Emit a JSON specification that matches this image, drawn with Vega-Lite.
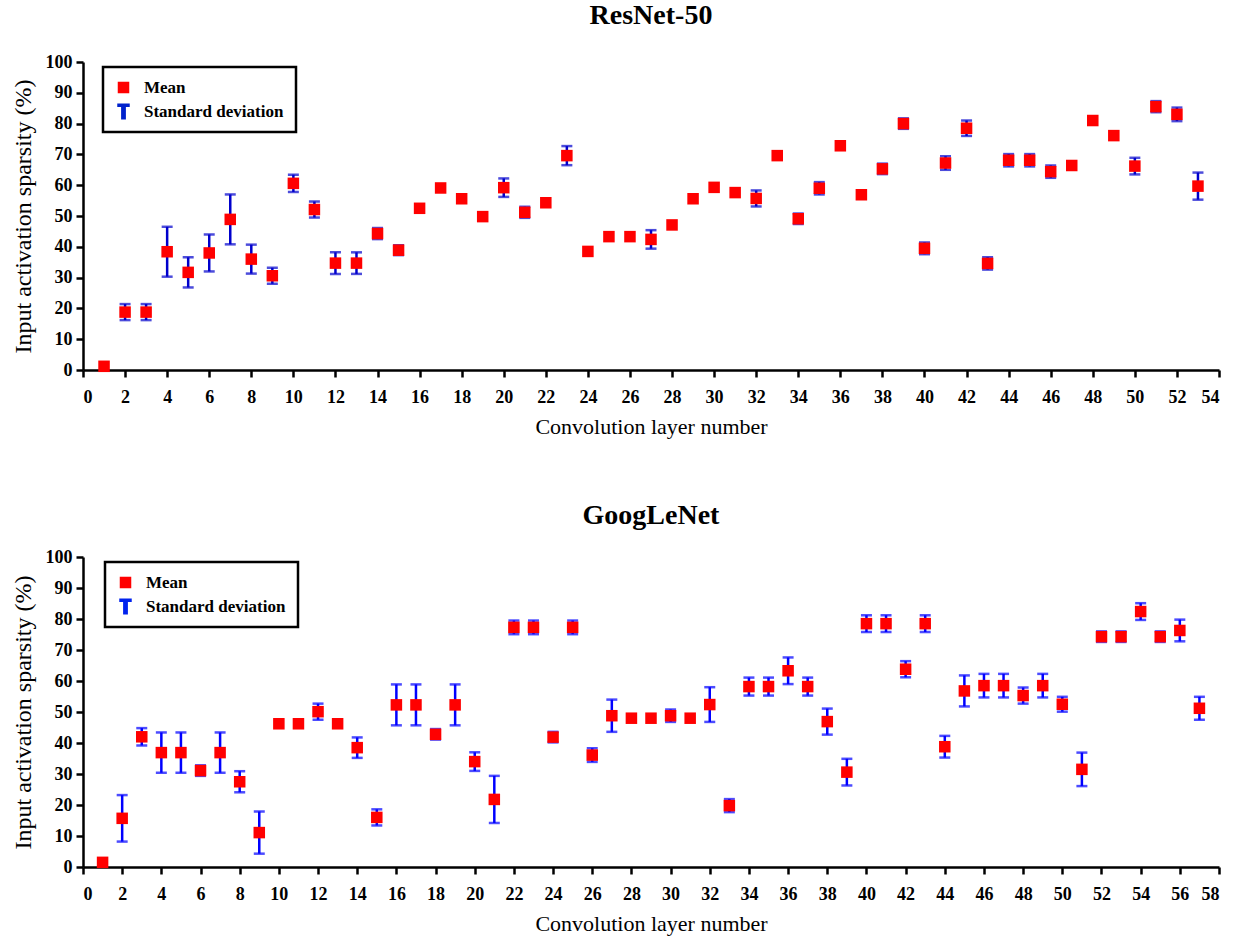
{
  "$schema": "https://vega.github.io/schema/vega-lite/v6.json",
  "background": "white",
  "padding": {"left": 11, "top": 2, "right": 20, "bottom": 2},
  "spacing": 65,
  "columns": 1,
  "align": "none",
  "datasets": {
    "resnet": [
      {"layer": 1, "mean": 1.2, "sd": 0},
      {"layer": 2, "mean": 18.8, "sd": 2.6},
      {"layer": 3, "mean": 18.8, "sd": 2.6},
      {"layer": 4, "mean": 38.4, "sd": 8.1},
      {"layer": 5, "mean": 31.7, "sd": 4.9},
      {"layer": 6, "mean": 38.0, "sd": 6.0},
      {"layer": 7, "mean": 48.9, "sd": 8.1},
      {"layer": 8, "mean": 36.0, "sd": 4.7},
      {"layer": 9, "mean": 30.6, "sd": 2.6},
      {"layer": 10, "mean": 60.6, "sd": 2.8},
      {"layer": 11, "mean": 52.1, "sd": 2.6},
      {"layer": 12, "mean": 34.7, "sd": 3.5},
      {"layer": 13, "mean": 34.7, "sd": 3.5},
      {"layer": 14, "mean": 44.3, "sd": 1.8},
      {"layer": 15, "mean": 38.9, "sd": 1.6},
      {"layer": 16, "mean": 52.5, "sd": 0},
      {"layer": 17, "mean": 59.1, "sd": 0},
      {"layer": 18, "mean": 55.6, "sd": 0},
      {"layer": 19, "mean": 49.8, "sd": 0},
      {"layer": 20, "mean": 59.2, "sd": 3.0},
      {"layer": 21, "mean": 51.2, "sd": 1.8},
      {"layer": 22, "mean": 54.3, "sd": 0},
      {"layer": 23, "mean": 69.6, "sd": 3.1},
      {"layer": 24, "mean": 38.5, "sd": 0},
      {"layer": 25, "mean": 43.3, "sd": 0},
      {"layer": 26, "mean": 43.3, "sd": 0},
      {"layer": 27, "mean": 42.4, "sd": 3.0},
      {"layer": 28, "mean": 47.1, "sd": 0},
      {"layer": 29, "mean": 55.6, "sd": 0},
      {"layer": 30, "mean": 59.3, "sd": 0},
      {"layer": 31, "mean": 57.6, "sd": 0},
      {"layer": 32, "mean": 55.7, "sd": 2.6},
      {"layer": 33, "mean": 69.6, "sd": 0},
      {"layer": 34, "mean": 49.1, "sd": 1.7},
      {"layer": 35, "mean": 59.0, "sd": 2.0},
      {"layer": 36, "mean": 72.8, "sd": 0},
      {"layer": 37, "mean": 56.9, "sd": 0},
      {"layer": 38, "mean": 65.3, "sd": 1.7},
      {"layer": 39, "mean": 80.0, "sd": 1.7},
      {"layer": 40, "mean": 39.5, "sd": 1.9},
      {"layer": 41, "mean": 67.2, "sd": 2.2},
      {"layer": 42, "mean": 78.5, "sd": 2.5},
      {"layer": 43, "mean": 34.6, "sd": 2.0},
      {"layer": 44, "mean": 68.1, "sd": 2.0},
      {"layer": 45, "mean": 68.1, "sd": 2.0},
      {"layer": 46, "mean": 64.4, "sd": 2.0},
      {"layer": 47, "mean": 66.4, "sd": 0},
      {"layer": 48, "mean": 81.0, "sd": 0},
      {"layer": 49, "mean": 76.1, "sd": 0},
      {"layer": 50, "mean": 66.2, "sd": 2.7},
      {"layer": 51, "mean": 85.5, "sd": 1.8},
      {"layer": 52, "mean": 83.0, "sd": 2.2},
      {"layer": 53, "mean": 59.7, "sd": 4.4}
    ],
    "googlenet": [
      {"layer": 1, "mean": 1.5, "sd": 0},
      {"layer": 2, "mean": 15.7, "sd": 7.5},
      {"layer": 3, "mean": 42.0, "sd": 2.8},
      {"layer": 4, "mean": 36.9, "sd": 6.5},
      {"layer": 5, "mean": 36.9, "sd": 6.5},
      {"layer": 6, "mean": 31.1, "sd": 1.7},
      {"layer": 7, "mean": 36.9, "sd": 6.5},
      {"layer": 8, "mean": 27.5, "sd": 3.4},
      {"layer": 9, "mean": 11.1, "sd": 6.8},
      {"layer": 10, "mean": 46.2, "sd": 0},
      {"layer": 11, "mean": 46.2, "sd": 0},
      {"layer": 12, "mean": 50.1, "sd": 2.6},
      {"layer": 13, "mean": 46.2, "sd": 0},
      {"layer": 14, "mean": 38.5, "sd": 3.3},
      {"layer": 15, "mean": 16.0, "sd": 2.6},
      {"layer": 16, "mean": 52.3, "sd": 6.6},
      {"layer": 17, "mean": 52.3, "sd": 6.6},
      {"layer": 18, "mean": 42.8, "sd": 1.7},
      {"layer": 19, "mean": 52.3, "sd": 6.6},
      {"layer": 20, "mean": 34.0, "sd": 3.0},
      {"layer": 21, "mean": 21.8, "sd": 7.6},
      {"layer": 22, "mean": 77.3, "sd": 2.2},
      {"layer": 23, "mean": 77.3, "sd": 2.2},
      {"layer": 24, "mean": 41.9, "sd": 1.7},
      {"layer": 25, "mean": 77.3, "sd": 2.2},
      {"layer": 26, "mean": 36.1, "sd": 2.2},
      {"layer": 27, "mean": 48.8, "sd": 5.2},
      {"layer": 28, "mean": 48.0, "sd": 0},
      {"layer": 29, "mean": 48.0, "sd": 0},
      {"layer": 30, "mean": 48.8, "sd": 2.0},
      {"layer": 31, "mean": 48.0, "sd": 0},
      {"layer": 32, "mean": 52.4, "sd": 5.6},
      {"layer": 33, "mean": 19.8, "sd": 2.1},
      {"layer": 34, "mean": 58.2, "sd": 2.9},
      {"layer": 35, "mean": 58.2, "sd": 2.9},
      {"layer": 36, "mean": 63.3, "sd": 4.3},
      {"layer": 37, "mean": 58.2, "sd": 2.9},
      {"layer": 38, "mean": 46.9, "sd": 4.2},
      {"layer": 39, "mean": 30.6, "sd": 4.3},
      {"layer": 40, "mean": 78.5, "sd": 2.7},
      {"layer": 41, "mean": 78.5, "sd": 2.7},
      {"layer": 42, "mean": 63.8, "sd": 2.6},
      {"layer": 43, "mean": 78.5, "sd": 2.7},
      {"layer": 44, "mean": 38.8, "sd": 3.5},
      {"layer": 45, "mean": 56.8, "sd": 5.0},
      {"layer": 46, "mean": 58.5, "sd": 3.8},
      {"layer": 47, "mean": 58.5, "sd": 3.8},
      {"layer": 48, "mean": 55.3, "sd": 2.6},
      {"layer": 49, "mean": 58.5, "sd": 3.8},
      {"layer": 50, "mean": 52.5, "sd": 2.4},
      {"layer": 51, "mean": 31.5, "sd": 5.4},
      {"layer": 52, "mean": 74.3, "sd": 1.7},
      {"layer": 53, "mean": 74.3, "sd": 1.7},
      {"layer": 54, "mean": 82.4, "sd": 2.7},
      {"layer": 55, "mean": 74.3, "sd": 1.7},
      {"layer": 56, "mean": 76.3, "sd": 3.5},
      {"layer": 57, "mean": 51.2, "sd": 3.7}
    ]
  },
  "concat": [
    {
      "title": {"text": "ResNet-50"},
      "width": 1136,
      "height": 308,
      "data": {"name": "resnet"},
      "layer": [
        {
          "transform": [{"filter": "datum.sd > 0"}],
          "mark": {"type": "errorbar", "color": "#0000cc", "thickness": 2.5, "ticks": {"size": 11, "thickness": 2.5, "color": "#0000cc"}},
          "encoding": {
            "x": {"field": "layer", "type": "quantitative", "scale": {"domain": [0, 54], "nice": false}, "axis": {"values": [0,2,4,6,8,10,12,14,16,18,20,22,24,26,28,30,32,34,36,38,40,42,44,46,48,50,52,54], "tickCount": 100, "format": "d", "labelOverlap": false, "title": "Convolution layer number"}},
            "y": {"field": "mean", "type": "quantitative", "scale": {"domain": [0, 100], "nice": false}, "axis": {"values": [0,10,20,30,40,50,60,70,80,90,100], "tickCount": 100, "format": "d", "labelOverlap": false, "title": "Input activation sparsity (%)"}},
            "yError": {"field": "sd"}
          }
        },
        {
          "mark": {"type": "point", "filled": true, "size": 256, "opacity": 1},
          "encoding": {
            "x": {"field": "layer", "type": "quantitative"},
            "y": {"field": "mean", "type": "quantitative"},
            "color": {
              "datum": "Mean",
              "scale": {"domain": ["Mean", "Standard deviation"], "range": ["#ff0000", "#0022cc"]},
              "legend": {"orient": "none", "legendX": 20, "legendY": 5, "title": null}
            },
            "shape": {
              "datum": "Mean",
              "scale": {"domain": ["Mean", "Standard deviation"], "range": ["M-0.72,-0.72H0.72V0.72H-0.72Z", "M-0.78,-1H0.78V-0.55H0.3V1H-0.3V-0.55H-0.78Z"]},
              "legend": {"orient": "none", "legendX": 20, "legendY": 5, "title": null}
            }
          }
        }
      ]
    },
    {
      "title": {"text": "GoogLeNet", "offset": 18},
      "width": 1136,
      "height": 310,
      "data": {"name": "googlenet"},
      "layer": [
        {
          "transform": [{"filter": "datum.sd > 0"}],
          "mark": {"type": "errorbar", "color": "#0000ff", "thickness": 2.5, "ticks": {"size": 11, "thickness": 2.5, "color": "#0000ff"}},
          "encoding": {
            "x": {"field": "layer", "type": "quantitative", "scale": {"domain": [0, 58], "nice": false}, "axis": {"values": [0,2,4,6,8,10,12,14,16,18,20,22,24,26,28,30,32,34,36,38,40,42,44,46,48,50,52,54,56,58], "tickCount": 100, "format": "d", "labelOverlap": false, "title": "Convolution layer number"}},
            "y": {"field": "mean", "type": "quantitative", "scale": {"domain": [0, 100], "nice": false}, "axis": {"values": [0,10,20,30,40,50,60,70,80,90,100], "tickCount": 100, "format": "d", "labelOverlap": false, "title": "Input activation sparsity (%)"}},
            "yError": {"field": "sd"}
          }
        },
        {
          "mark": {"type": "point", "filled": true, "size": 256, "opacity": 1},
          "encoding": {
            "x": {"field": "layer", "type": "quantitative"},
            "y": {"field": "mean", "type": "quantitative"},
            "color": {
              "datum": "Mean",
              "scale": {"domain": ["Mean", "Standard deviation"], "range": ["#ff0000", "#0022ee"]},
              "legend": {"orient": "none", "legendX": 22, "legendY": 5, "title": null}
            },
            "shape": {
              "datum": "Mean",
              "scale": {"domain": ["Mean", "Standard deviation"], "range": ["M-0.72,-0.72H0.72V0.72H-0.72Z", "M-0.78,-1H0.78V-0.55H0.3V1H-0.3V-0.55H-0.78Z"]},
              "legend": {"orient": "none", "legendX": 22, "legendY": 5, "title": null}
            }
          }
        }
      ]
    }
  ],
  "resolve": {"scale": {"color": "independent", "shape": "independent"}, "legend": {"color": "independent", "shape": "independent"}},
  "config": {
    "view": {"stroke": null},
    "font": "Liberation Serif",
    "title": {"font": "Liberation Serif", "fontSize": 28, "fontWeight": "bold", "color": "black", "anchor": "middle", "offset": 23},
    "axis": {
      "grid": false,
      "labelOverlap": false,
      "domainColor": "black", "domainWidth": 2.5,
      "tickColor": "black", "tickWidth": 2.5, "tickSize": 7,
      "labelFont": "Liberation Serif", "labelFontWeight": "bold", "labelFontSize": 18, "labelColor": "black",
      "titleFont": "Liberation Serif", "titleFontWeight": "normal", "titleFontSize": 22, "titleColor": "black"
    },
    "axisX": {"labelPadding": 11, "titlePadding": 10},
    "axisY": {"labelPadding": 4, "titlePadding": 10, "titleFontSize": 24},
    "legend": {
      "strokeColor": "black", "strokeWidth": 2.5, "padding": 12, "fillColor": "white",
      "labelFont": "Liberation Serif", "labelFontWeight": "bold", "labelFontSize": 17, "labelColor": "black",
      "symbolSize": 256, "rowPadding": 6, "labelOffset": 12, "symbolStrokeWidth": 0, "symbolOpacity": 1
    }
  }
}
